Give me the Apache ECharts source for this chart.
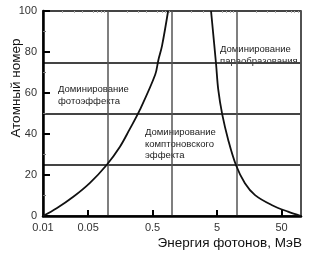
<!DOCTYPE html>
<html>
<head>
<meta charset="utf-8">
<script src="https://cdn.jsdelivr.net/npm/echarts@6/dist/echarts.min.js"></script>
<style>
    html, body { margin: 0; padding: 0; background: #fff; }
    #chart { width: 317px; height: 264px; }
</style>
</head>
<body>
<div id="chart"></div>
<script>
// photo / compton boundary (energy in MeV, atomic number)
let photoEnergy = [0.01, 0.0163, 0.0295, 0.0535, 0.097, 0.156, 0.218, 0.32, 0.55, 0.614, 0.7, 0.87]
let photoZ = [0, 3.8, 9.4, 16.2, 24.9, 33.8, 42, 52, 69, 76, 83, 100]

// compton / pair production boundary
let pairEnergy = [4.03, 4.81, 5.22, 6.03, 7.46, 9.8, 13.5, 19.4, 35, 63, 100]
let pairZ = [100, 74.5, 61.5, 49.3, 37, 24.9, 16, 10.2, 5.4, 2.1, 0]

let xLabelValues = [0.01, 0.05, 0.5, 5, 50]
let xTickValues = [0.05, 0.5, 5, 50]
let xMinorValues = [0.02, 0.03, 0.04, 0.06, 0.07, 0.08, 0.09,
    0.2, 0.3, 0.4, 0.6, 0.7, 0.8, 0.9,
    2, 3, 4, 6, 7, 8, 9,
    20, 30, 40, 60, 70, 80, 90]

function pairs(xs, ys) {
    return xs.map(function (x, i) { return [x, ys[i]] })
}

let chart = echarts.init(document.getElementById('chart'))
chart.setOption({
    animation: false,
    grid: {
        left: 43,
        right: 16,
        top: 11,
        bottom: 48,
        show: true,
        borderColor: '#111',
        borderWidth: 1.5
    },
    xAxis: [
        {
            type: 'log',
            logBase: 10,
            min: 0.01,
            max: 100,
            axisLine: { lineStyle: { color: '#000', width: 2.5 } },
            axisTick: {
                show: true,
                inside: true,
                length: 6,
                customValues: xTickValues,
                lineStyle: { color: '#000', width: 2 }
            },
            axisLabel: {
                customValues: xLabelValues,
                color: '#333',
                fontSize: 11,
                fontFamily: 'Liberation Sans',
                margin: 6
            },
            splitLine: { show: false }
        },
        {
            type: 'log',
            logBase: 10,
            min: 0.01,
            max: 100,
            axisLine: { show: false },
            axisTick: { show: false },
            axisLabel: { show: false },
            splitLine: { show: true, lineStyle: { color: '#555', width: 1.5 } }
        },
        {
            type: 'log',
            logBase: 10,
            min: 0.01,
            max: 100,
            axisLine: { show: false },
            axisTick: {
                show: true,
                inside: true,
                length: 2,
                customValues: xMinorValues,
                lineStyle: { color: '#aaa', width: 1 }
            },
            axisLabel: { show: false },
            splitLine: { show: false }
        }
    ],
    yAxis: [
        {
            type: 'value',
            min: 0,
            max: 100,
            interval: 20,
            axisLine: { show: true, lineStyle: { color: '#000', width: 2.5 } },
            axisTick: { show: true, inside: true, length: 7, lineStyle: { color: '#000', width: 2 } },
            minorTick: { show: true, splitNumber: 2, length: 3, lineStyle: { color: '#777' } },
            axisLabel: { color: '#333', fontSize: 11, fontFamily: 'Liberation Sans', margin: 6 },
            splitLine: { show: false }
        },
        {
            type: 'value',
            min: 0,
            max: 100,
            interval: 25,
            position: 'left',
            axisLine: { show: false },
            axisTick: { show: false },
            axisLabel: { show: false },
            splitLine: { show: true, lineStyle: { color: '#444', width: 2 } }
        }
    ],
    graphic: [
        {
            type: 'text', x: 16, y: 88, rotation: Math.PI / 2,
            style: {
                text: 'Атомный номер', fill: '#111', font: '13.5px "Liberation Sans"',
                align: 'center', verticalAlign: 'middle'
            }
        },
        {
            type: 'text', right: 15, top: 236,
            style: { text: 'Энергия фотонов, МэВ', fill: '#111', font: '13.5px "Liberation Sans"' }
        },
        {
            type: 'text', left: 58, top: 83,
            style: { text: 'Доминирование\nфотоэффекта', fill: '#222', font: '9.5px "Liberation Sans"', lineHeight: 12 }
        },
        {
            type: 'text', left: 220, top: 43,
            style: { text: 'Доминирование\nпараобразования', fill: '#222', font: '9.5px "Liberation Sans"', lineHeight: 12.5 }
        },
        {
            type: 'text', left: 145, top: 127,
            style: { text: 'Доминирование\nкомптоновского\nэффекта', fill: '#222', font: '9.5px "Liberation Sans"', lineHeight: 11.5 }
        }
    ],
    series: [
        {
            type: 'line',
            smooth: 0.35,
            showSymbol: false,
            lineStyle: { color: '#111', width: 1.8 },
            data: pairs(photoEnergy, photoZ)
        },
        {
            type: 'line',
            smooth: 0.35,
            showSymbol: false,
            lineStyle: { color: '#111', width: 1.8 },
            data: pairs(pairEnergy, pairZ)
        }
    ]
})
</script>
</body>
</html>
